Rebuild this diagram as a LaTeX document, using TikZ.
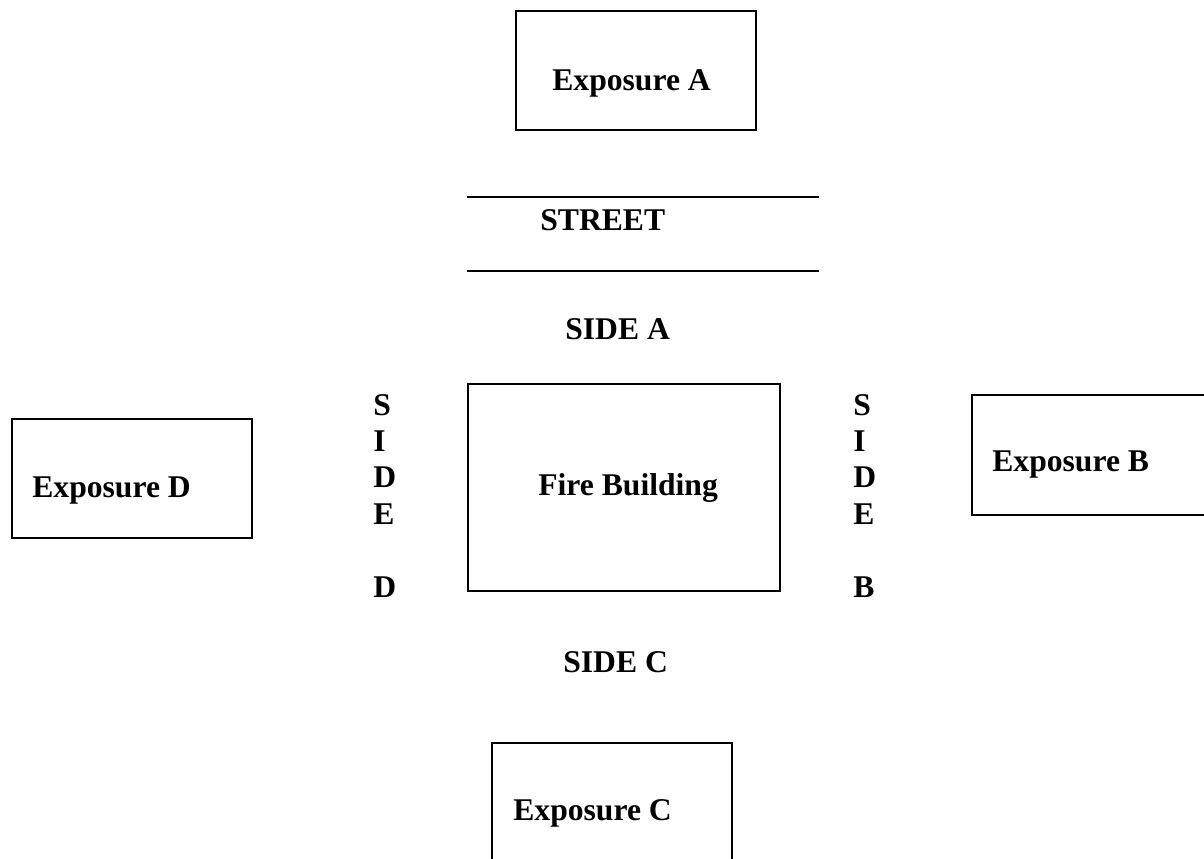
\documentclass[tikz,border=0pt]{standalone}
\usepackage{fontspec}
\setmainfont{Liberation Serif}
\usetikzlibrary{positioning}

\begin{document}
\begin{tikzpicture}[
    x=0.02cm, y=-0.02cm,
    box/.style={rectangle, draw, line width=1.1pt, minimum width=0pt, minimum height=0pt, inner sep=0pt},
    lbl/.style={font=\bfseries\fontsize{18}{21}\selectfont, inner sep=0pt, anchor=base west},
    street/.style={line width=0.85pt}
]
\useasboundingbox (0,0) rectangle (1204,859);

% exposures and the fire building
\node[box, minimum width=4.8cm, minimum height=2.38cm, anchor=north west] (expA) at (515,10) {};
\node[box, minimum width=4.8cm, minimum height=2.38cm, anchor=north west] (expD) at (11,418) {};
\node[box, minimum width=5.0cm, minimum height=2.40cm, anchor=north west] (expB) at (971,394) {};
\node[box, minimum width=4.8cm, minimum height=2.60cm, anchor=north west] (expC) at (491,742) {};
\node[box, minimum width=6.24cm, minimum height=4.14cm, anchor=north west] (fire) at (467,383) {};

\node[lbl] (expAtext) at (552,90) {Exposure A};
\node[lbl] (expDtext) at (32,497) {Exposure D};
\node[lbl] (expBtext) at (992,471) {Exposure B};
\node[lbl] (expCtext) at (513,820) {Exposure C};
\node[lbl] (firetext) at (538,495) {Fire Building};

% street
\coordinate (st1) at (467,197);
\coordinate (st2) at (819,197);
\coordinate (st3) at (467,271);
\coordinate (st4) at (819,271);
\draw[street] (st1) -- (st2);
\draw[street] (st3) -- (st4);
\node[lbl] (street) at (540,230) {STREET};

% sides
\node[lbl] (sideA) at (565,339) {SIDE A};
\node[lbl] (sideC) at (563,672) {SIDE C};
\foreach \c/\k in {S/0,I/1,D/2,E/3,D/5}
    \node[lbl] (sideD\k) at (373,{415+36.4*\k}) {\c};
\foreach \c/\k in {S/0,I/1,D/2,E/3,B/5}
    \node[lbl] (sideB\k) at (853,{415+36.4*\k}) {\c};
\end{tikzpicture}
\end{document}
